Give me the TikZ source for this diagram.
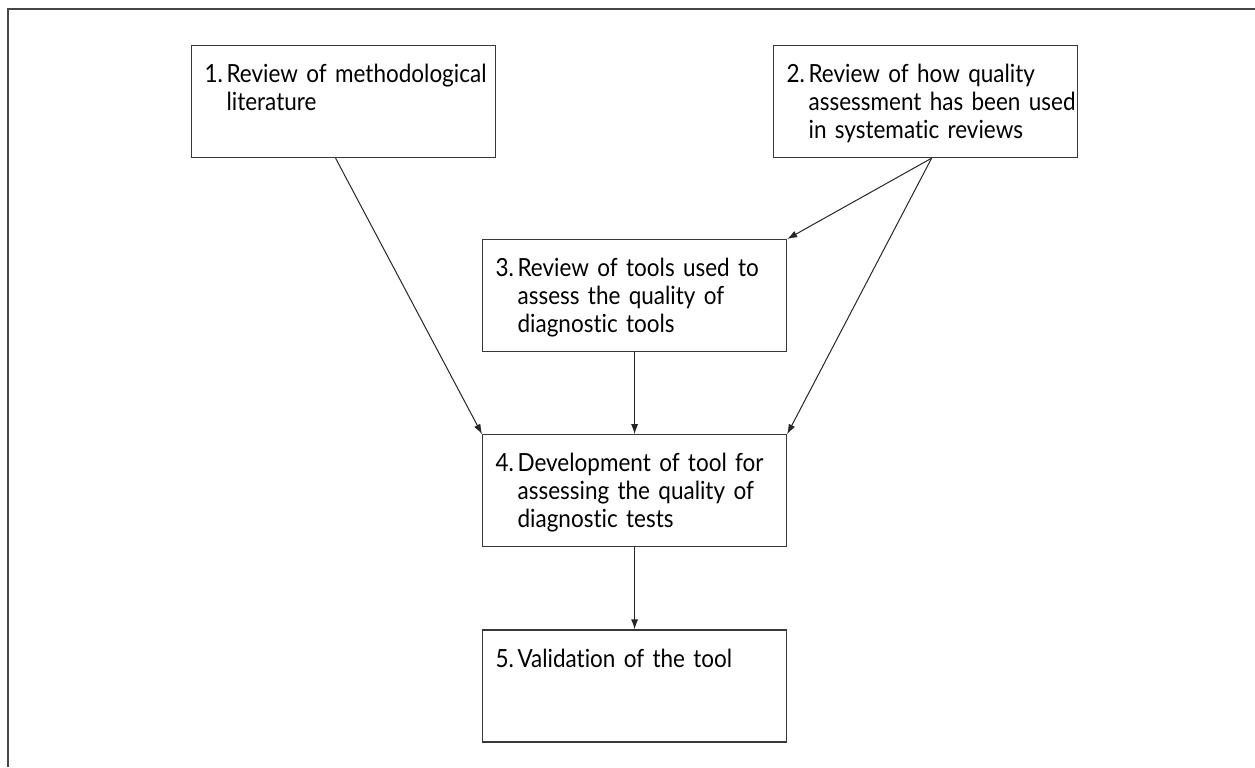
\documentclass[tikz,border=0pt]{standalone}
\usepackage{fontspec}
\setmainfont{Lato}[FakeStretch=0.9, Ligatures=NoCommon]
\usetikzlibrary{arrows.meta, positioning, calc}
\definecolor{boxgray}{RGB}{55, 55, 55}
\definecolor{framegray}{RGB}{70, 70, 70}
\newcommand{\stageitem}[2]{\makebox[11pt][l]{#1}\begin{tabular}[t]{@{}l@{}}#2\end{tabular}}
\tikzset{
	stagebox/.style={rectangle, draw=boxgray, line width=0.6pt, align=left, text width=139pt, inner xsep=6.5pt, inner ysep=6pt, text height=12.5pt, text depth=31.5pt, font=\fontsize{12.5}{14}\selectfont, anchor=north west},
	arrow/.style={-{Latex[length=5pt, width=3.5pt]}, line width=0.5pt, draw=black!85},
	frameline/.style={line width=1pt, draw=framegray},
}
\begin{document}
\begin{tikzpicture}[x=0.5pt, y=-0.5pt, node distance=41pt]
	\useasboundingbox (0,0) rectangle (1255,767);
	\draw[frameline] (8,767) -- (8,9) -- (1255,9);
	\node[stagebox] (lit) at (191,45) {\stageitem{1.}{Review of methodological\\literature}};
	\node[stagebox] (use) at (773,45) {\stageitem{2.}{Review of how quality\\assessment has been used\\in systematic reviews}};
	\node[stagebox] (tools) at (482,239) {\stageitem{3.}{Review of tools used to\\assess the quality of\\diagnostic tools}};
	\node[stagebox, anchor=north, below=of tools] (dev) {\stageitem{4.}{Development of tool for\\assessing the quality of\\diagnostic tests}};
	\node[stagebox, anchor=north, below=of dev] (valid) {\stageitem{5.}{Validation of the tool}};
	\draw[arrow] ([xshift=-4pt]lit.south) -- (dev.north west);
	\draw[arrow] ([xshift=3pt]use.south) -- (tools.north east);
	\draw[arrow] ([xshift=3pt]use.south) -- (dev.north east);
	\draw[arrow] (tools) -- (dev);
	\draw[arrow] (dev) -- (valid);
\end{tikzpicture}
\end{document}
